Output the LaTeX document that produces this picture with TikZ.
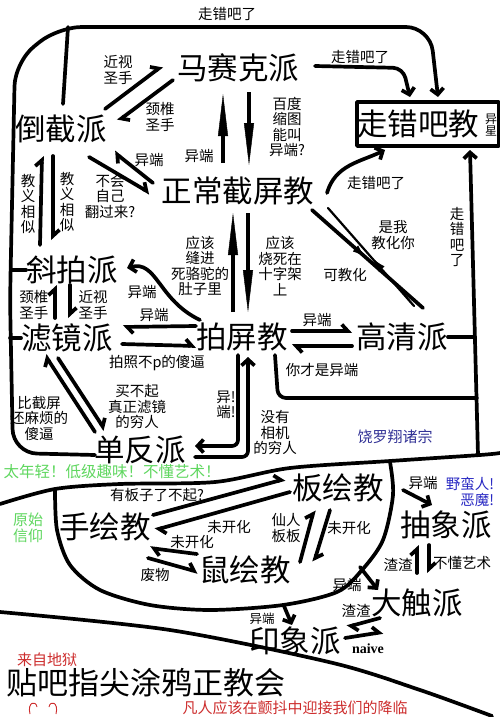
\documentclass[tikz,border=0pt]{standalone}
\usepackage{fontspec}
\setmainfont{Noto Sans CJK SC}
\newfontfamily\naivefont{Liberation Serif}
\usepackage{tikz}
\usetikzlibrary{arrows.meta, calc, decorations.markings}
\usepackage{xcolor}
\definecolor{hellred}{RGB}{205,45,45}
\definecolor{crowdgreen}{RGB}{95,215,95}
\definecolor{sageblue}{RGB}{50,50,150}
\definecolor{barbblue}{RGB}{40,40,195}

\begin{document}
\begin{tikzpicture}[
                x=1pt, y=-1pt,
                sect/.style={inner sep=0pt, font=\fontsize{30.5}{32}\selectfont},
                note/.style={inner sep=0pt, align=center, font=\fontsize{14.5}{15.5}\selectfont},
                wire/.style={line width=3.7pt, line cap=round, line join=round},
                goes/.style={wire, -{Straight Barb[length=6pt, width=13pt]}},
                harp/.style={wire, -{Straight Barb[left, length=6pt, width=13pt]}},
                bolt/.style={line width=4.6pt, -{Triangle[length=42pt, width=10pt, line width=0.4pt]}},
                preach/.style={postaction={decorate}, decoration={markings, mark=at position 0.5 with {\arrow{Latex[length=16pt, width=8pt]}}}}
            ]
                \useasboundingbox (0,0) rectangle (500,717);
                \fill[white] (0,0) rectangle (500,717);

                % Upper world: the screenshot sects
                \node[sect] (msk) at (238,68) {马赛克派};
                \node[sect] (dj) at (61,129) {倒截派};
                \node[draw, wire, minimum width=142, minimum height=44, inner sep=0pt] (zcbbox) at (428,124) {};
                \node[sect] (zcb) at (418,124) {走错吧教};
                \node[inner sep=0pt, align=center, font=\fontsize{12}{12.5}\selectfont] (alien) at (491,125) {异\\星};
                \node[sect] (zc) at (238,191) {正常截屏教};
                \node[sect] (xp) at (72,270) {斜拍派};
                \node[sect] (lj) at (67,338) {滤镜派};
                \node[sect] (pp) at (242,337) {拍屏教};
                \node[sect] (gq) at (402,337) {高清派};
                \node[sect] (df) at (140,450) {单反派};

                \node[note] (say1) at (227,14) {走错吧了};
                \node[note] (say2) at (118,70) {近视\\圣手};
                \node[note] (say3) at (160,117) {颈椎\\圣手};
                \node[note] (say4) at (149,160) {异端};
                \node[note] (say5) at (199,156) {异端};
                \node[note] (say6) at (287,127) {百度\\缩图\\能叫\\异端?};
                \node[note] (say7) at (360,57) {走错吧了};
                \node[note] (say8) at (28,204) {教\\义\\相\\似};
                \node[note] (say9) at (67,202) {教\\义\\相\\似};
                \node[note] (say10) at (110,196) {不会\\自己\\翻过来?};
                \node[note] (say11) at (200,266) {应该\\缝进\\死骆驼的\\肚子里};
                \node[note] (say12) at (280,266) {应该\\烧死在\\十字架\\上};
                \node[note] (say13) at (376,183) {走错吧了};
                \node[note] (say14) at (393,235) {是我\\教化你};
                \node[note] (say15) at (345,275) {可教化};
                \node[note] (say16) at (457,237) {走\\错\\吧\\了};
                \node[note] (say17) at (317,320) {异端};
                \node[note] (say18) at (34,305) {颈椎\\圣手};
                \node[note] (say19) at (93,305) {近视\\圣手};
                \node[note] (say20) at (142,292) {异端};
                \node[note] (say21) at (154,315) {异端};
                \node[note] (say22) at (157,363) {拍照不p的傻逼};
                \node[note] (say23) at (137,407) {买不起\\真正滤镜\\的穷人};
                \node[note] (say24) at (39,418) {比截屏\\还麻烦的\\傻逼};
                \node[note] (say25) at (226,405) {异!\\端!};
                \node[note] (say26) at (322,370) {你才是异端};
                \node[note] (say27) at (275,433) {没有\\相机\\的穷人};
                \node[note, text=sageblue, font=\fontsize{15}{16}\selectfont] (say28) at (395,437) {饶罗翔诸宗};

                % the big frame: everyone up here went the wrong way
                \draw[goes, rounded corners=24pt] ($(df)+(-45,5)$) -- (13,453) -- (10,300) -- (15,62) -- (58,27) -- (430,27) -- ($(zcbbox)+(10,-27)$);
                \coordinate (fork) at (68,27);
                \draw[wire] (fork) -- ($(dj)+(2,-25)$);
                \draw[wire] (xp.west) -- ++(-14,0);
                \draw[wire] (lj.west) -- ++(-11,0);
                \draw[goes, rounded corners=10pt] ($(msk)+(77,-2)$) -- ($(zcbbox)+(-25,-56)$) -- ($(zcbbox)+(-18,-27)$);

                \draw[harp] ($(dj)+(44,-20)$) -- ($(msk)+(-76,-2)$);
                \draw[harp] ($(msk)+(-65,12)$) -- ($(dj)+(57,-8)$);
                \draw[harp] ($(zc)+(-85,-8)$) -- ($(dj)+(53,23)$);
                \draw[harp] ($(dj)+(28,28)$) -- ($(zc)+(-88,2)$);

                \draw[bolt] ($(zc)+(-15,-28)$) -- ($(msk)+(-15,26)$);
                \draw[bolt] ($(msk)+(11,24)$) -- ($(zc)+(11,-26)$);
                \draw[bolt] ($(pp)+(-9,-25)$) -- ($(zc)+(-5,22)$);
                \draw[bolt] ($(zc)+(10,22)$) -- ($(pp)+(6,-25)$);

                \draw[goes] ($(zc)+(89,2)$) .. controls +(8,-28) and +(-25,12) .. ($(zcbbox)+(-43,26)$);
                \draw[wire, preach] ($(zc)+(74,19)$) -- ($(gq)+(21,-29)$);
                \draw[wire, line width=2.2pt, preach] ($(gq)+(12,-31)$) -- ($(zc)+(90,17)$);

                \coordinate (rvfoot) at (478,455);
                \draw[goes] (rvfoot) -- ($(zcbbox)+(42,26)$);
                \draw[wire] (gq.east) -- ++(27,0);
                \draw[wire, rounded corners=8pt] ($(pp)+(33,18)$) -- ($(pp)+(36,61)$) -- (477,398);

                \draw[goes] ($(pp)+(-42,-17)$) .. controls +(-42,-20) and +(30,-8) .. ($(xp)+(55,-2)$);
                \draw[harp] ($(pp)+(-46,-11)$) -- ($(lj)+(56,-11)$);
                \draw[harp] ($(lj)+(55,6)$) -- ($(pp)+(-46,9)$);

                \draw[harp] ($(xp)+(-32,-25)$) -- ($(dj)+(-19,27)$);
                \draw[harp] ($(dj)+(-8,27)$) -- ($(xp)+(-19,-30)$);
                \draw[harp] ($(lj)+(-12,-20)$) -- ($(xp)+(-17,15)$);
                \draw[harp] ($(xp)+(-2,15)$) -- ($(lj)+(3,-20)$);
                \draw[harp] ($(df)+(-45,-18)$) -- ($(lj)+(-22,17)$);
                \draw[harp] ($(lj)+(-9,20)$) -- ($(df)+(-35,-20)$);

                \draw[goes, rounded corners=6pt] ($(pp)+(-4,18)$) -- ($(pp)+(-4,109)$) -- ($(df)+(55,-4)$);
                \draw[goes, rounded corners=6pt] ($(df)+(55,7)$) -- ($(pp)+(6,120)$) -- ($(pp)+(6,20)$);
                \draw[harp] ($(pp)+(50,-6)$) -- ($(gq)+(-50,-6)$);
                \draw[harp] ($(gq)+(-50,9)$) -- ($(pp)+(50,9)$);

                % Lower world: the drawing sects
                \draw[wire] plot[smooth] coordinates {(0,504) (55,489) (120,484) (215,482) (290,468) (390,461) (480,455) (500,453)};
                \draw[wire] plot[smooth] coordinates {(55,489) (57,530) (70,565) (100,590) (150,605) (210,610) (283,605) (337,592) (362,570) (383,540) (393,495) (390,462)};

                \node[sect] (bh) at (338,488) {板绘教};
                \node[sect] (sh) at (105,527) {手绘教};
                \node[sect] (cx) at (446,525) {抽象派};
                \node[sect] (sm) at (245,570) {鼠绘教};
                \node[sect] (dc) at (417,603) {大触派};
                \node[sect] (yx) at (295,641) {印象派};

                \node[note, text=crowdgreen, font=\fontsize{15.5}{16.5}\selectfont] (say29) at (112,472) {太年轻！低级趣味！不懂艺术！};
                \node[note] (say30) at (157,495) {有板子了不起?};
                \node[note, text=crowdgreen, font=\fontsize{15}{16}\selectfont] (say31) at (28,528) {原始\\信仰};
                \node[note] (say32) at (229,527) {未开化};
                \node[note] (say33) at (192,542) {未开化};
                \node[note] (say34) at (155,575) {废物};
                \node[note] (say35) at (286,528) {仙人\\板板};
                \node[note] (say36) at (349,528) {未开化};
                \node[note] (say37) at (423,483) {异端};
                \node[note, align=right, text=barbblue] (say38) at (470,492) {野蛮人!\\恶魔!};
                \node[note] (say39) at (398,565) {渣渣};
                \node[note] (say40) at (462,563) {不懂艺术};
                \node[note] (say41) at (347,585) {异端};
                \node[note] (say42) at (356,611) {渣渣};
                \node[note, font=\fontsize{12.5}{13}\selectfont] (say43) at (262,619) {异端};
                \node[inner sep=0pt, font=\naivefont\bfseries\fontsize{14}{15}\selectfont] (say44) at (368,649) {naive};

                \draw[harp] ($(sh)+(48,-12)$) -- ($(bh)+(-53,-9)$);
                \draw[harp] ($(bh)+(-48,4)$) -- ($(sh)+(50,3)$);
                \draw[harp] ($(sm)+(-48,-16)$) -- ($(sh)+(45,21)$);
                \draw[harp] ($(sh)+(43,31)$) -- ($(sm)+(-47,2)$);
                \draw[harp] ($(sm)+(55,-8)$) -- ($(bh)+(-24,22)$);
                \draw[harp] ($(bh)+(-8,22)$) -- ($(sm)+(69,-8)$);
                \draw[goes] ($(bh)+(65,2)$) -- ($(cx)+(-14,-20)$);
                \draw[harp] ($(dc)+(0,-30)$) -- ($(cx)+(-29,20)$);
                \draw[harp] ($(cx)+(-17,20)$) -- ($(dc)+(12,-30)$);

                \coordinate (rim) at (360,567);
                \coordinate (foot) at (284,606);
                \draw[goes] (rim) -- ($(dc)+(-39,-13)$);
                \draw[goes] (foot) -- ($(yx)+(-3,-16)$);
                \draw[harp] ($(dc)+(-37,15)$) -- ($(yx)+(52,-14)$);
                \draw[harp] ($(yx)+(50,-3)$) -- ($(dc)+(-34,29)$);

                % Hell: the finger painting church
                \draw[wire] plot[smooth] coordinates {(0,612) (170,630) (333,663) (420,690) (492,716)};
                \node[sect, font=\fontsize{31}{32}\selectfont] (tb) at (146,683) {贴吧指尖涂鸦正教会};
                \node[note, text=hellred, font=\fontsize{15}{16}\selectfont] (say45) at (47,660) {来自地狱};
                \node[note, text=hellred, font=\fontsize{15}{16}\selectfont] (say46) at (295,708) {凡人应该在颤抖中迎接我们的降临};
                \draw[hellred, line width=0.9pt] (30,714) .. controls (27,702) and (36,700) .. (37,707);
                \draw[hellred, line width=0.9pt] (56,714) .. controls (59,702) and (50,700) .. (49,707);
            \end{tikzpicture}
\end{document}
